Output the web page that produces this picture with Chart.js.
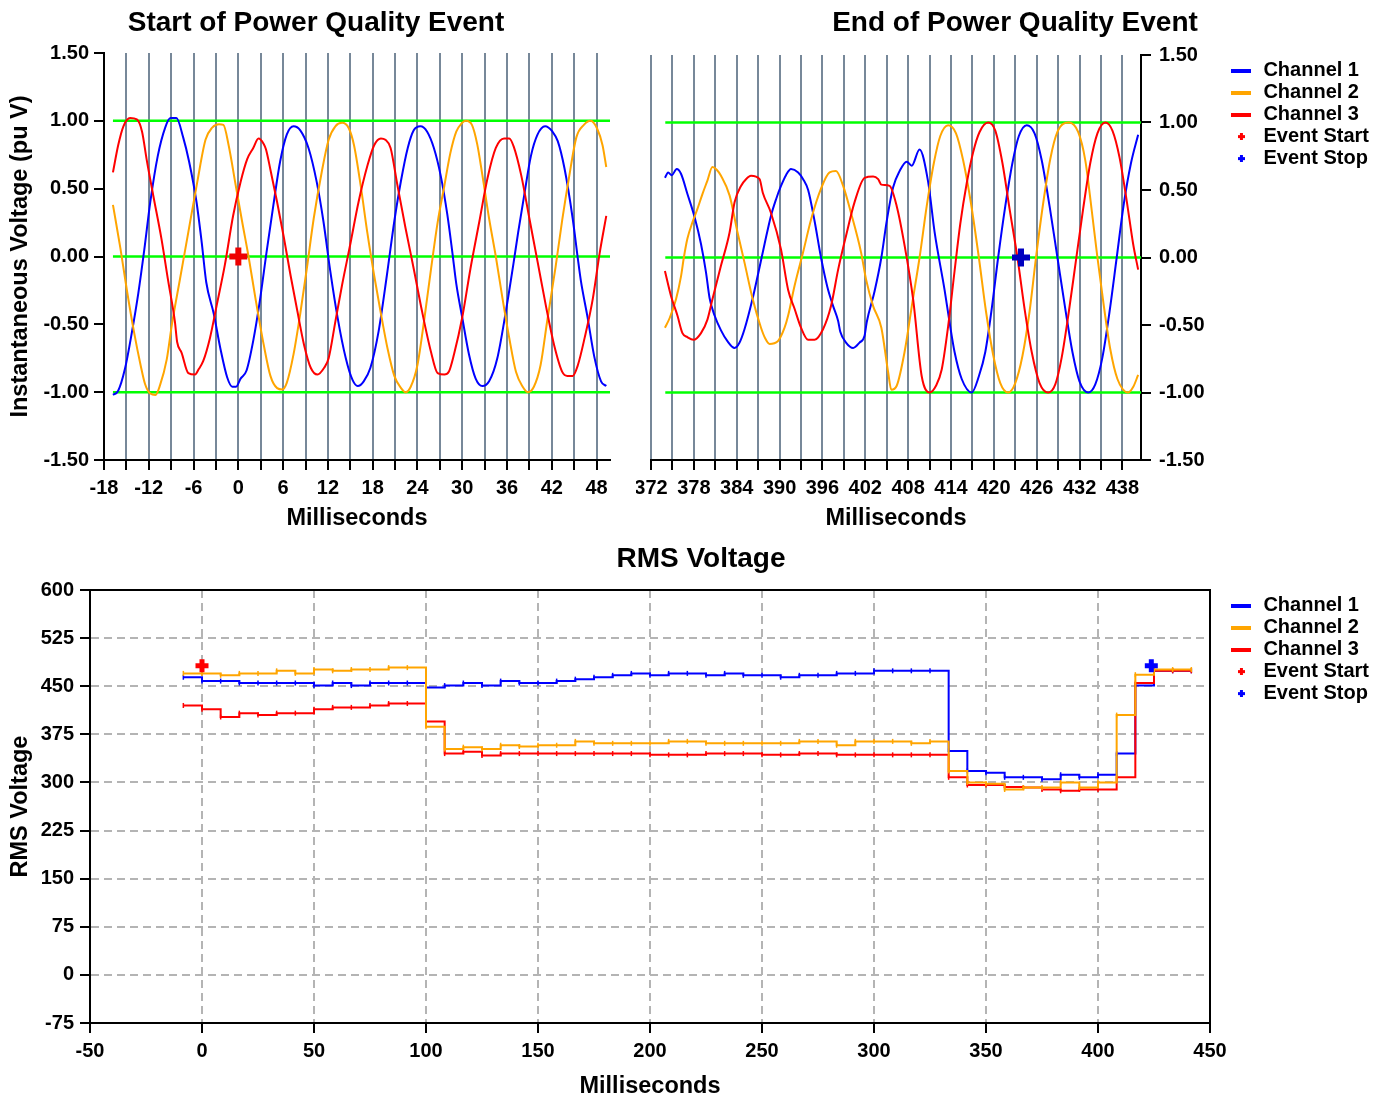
<!DOCTYPE html>
<html lang="en">
<head>
<meta charset="utf-8">
<title>Power Quality Event</title>
<script src="https://cdn.jsdelivr.net/npm/chart.js@4.4.1/dist/chart.umd.min.js"></script>
<style>
  html, body { margin: 0; padding: 0; background: #fff; overflow: hidden; }
  canvas { position: absolute; }
  #startChart { left: 0; top: 0; }
  #endChart { left: 636px; top: 0; }
  #rmsChart { left: 0; top: 540px; }
</style>
</head>
<body>
<canvas id="startChart" width="632" height="540"></canvas>
<canvas id="endChart" width="743" height="540"></canvas>
<canvas id="rmsChart" width="1379" height="560"></canvas>
<script>
// instantaneous samples around the start of the event, [ms, pu V]
const startCh1 = [[-16.8,-1.02],[-16.1,-0.99],[-15.2,-0.83],[-14.3,-0.57],[-13.4,-0.27],[-12.6,0.05],[-11.8,0.40],[-10.8,0.74],[-9.8,0.95],[-9.1,1.02],[-8.3,1.02],[-7.4,0.88],[-6.6,0.70],[-5.6,0.40],[-4.9,0.10],[-4.3,-0.19],[-3.3,-0.42],[-2.4,-0.68],[-1.5,-0.89],[-0.8,-0.96],[-0.3,-0.96],[0.3,-0.90],[1.1,-0.84],[2.0,-0.62],[2.9,-0.32],[3.8,0.04],[4.7,0.38],[5.6,0.70],[6.5,0.90],[7.4,0.96],[8.3,0.93],[9.4,0.80],[10.5,0.55],[11.4,0.26],[12.3,-0.10],[13.3,-0.45],[14.4,-0.75],[15.3,-0.91],[16.0,-0.955],[16.8,-0.92],[17.7,-0.82],[18.8,-0.55],[19.9,-0.14],[20.9,0.26],[21.8,0.56],[22.7,0.80],[23.5,0.93],[24.4,0.96],[25.3,0.92],[26.2,0.80],[27.1,0.60],[28.0,0.31],[28.7,0.02],[29.2,-0.20],[30.0,-0.45],[30.9,-0.72],[31.8,-0.90],[32.7,-0.955],[33.6,-0.92],[34.7,-0.75],[35.8,-0.42],[36.9,-0.04],[37.5,0.18],[38.3,0.45],[39.2,0.74],[40.1,0.90],[41.1,0.96],[42.1,0.92],[42.8,0.85],[43.7,0.65],[44.8,0.28],[45.5,-0.02],[45.9,-0.18],[46.8,-0.45],[47.7,-0.74],[48.6,-0.92],[49.3,-0.955]];
const startCh2 = [[-16.8,0.38],[-15.8,0.06],[-14.9,-0.26],[-14.0,-0.55],[-13.1,-0.80],[-12.5,-0.94],[-11.8,-1.01],[-11.1,-1.02],[-10.5,-0.95],[-9.6,-0.76],[-8.9,-0.50],[-7.8,-0.16],[-6.7,0.18],[-5.5,0.55],[-4.4,0.86],[-3.5,0.95],[-2.6,0.975],[-2.0,0.97],[-1.3,0.82],[-0.4,0.54],[0.5,0.26],[1.4,-0.01],[2.3,-0.31],[3.4,-0.65],[4.3,-0.88],[5.2,-0.97],[5.9,-0.98],[6.5,-0.93],[7.4,-0.72],[8.3,-0.42],[9.2,-0.08],[10.1,0.28],[11.2,0.63],[12.1,0.86],[13.0,0.96],[13.9,0.985],[14.8,0.945],[15.5,0.82],[16.4,0.52],[17.3,0.17],[18.2,-0.14],[19.1,-0.42],[20.0,-0.68],[20.9,-0.88],[21.8,-0.97],[22.4,-1.0],[23.1,-0.96],[24.0,-0.80],[24.9,-0.47],[25.8,-0.10],[26.7,0.25],[27.6,0.52],[28.4,0.76],[29.2,0.92],[29.9,0.98],[30.5,1.0],[31.3,0.97],[32.0,0.83],[32.7,0.60],[33.6,0.28],[34.5,0.0],[35.4,-0.31],[36.3,-0.60],[37.2,-0.85],[38.1,-0.96],[38.8,-1.0],[39.6,-0.96],[40.5,-0.80],[41.4,-0.47],[42.5,-0.08],[43.4,0.27],[44.3,0.58],[45.3,0.88],[46.3,0.97],[47.2,1.0],[48.1,0.94],[48.8,0.82],[49.3,0.66]];
const startCh3 = [[-16.8,0.62],[-16.1,0.82],[-15.4,0.96],[-14.5,1.02],[-13.6,1.01],[-12.9,0.92],[-12.3,0.72],[-11.4,0.45],[-10.3,0.13],[-9.4,-0.18],[-8.5,-0.48],[-8.2,-0.63],[-7.6,-0.71],[-6.7,-0.86],[-5.8,-0.87],[-5.3,-0.83],[-4.7,-0.77],[-3.8,-0.60],[-2.9,-0.36],[-1.8,-0.06],[-0.7,0.30],[0.3,0.55],[1.2,0.72],[2.0,0.80],[2.7,0.87],[3.4,0.83],[3.7,0.79],[4.3,0.64],[5.2,0.40],[6.1,0.14],[7.0,-0.14],[7.9,-0.40],[8.8,-0.65],[9.7,-0.82],[10.6,-0.87],[11.5,-0.82],[12.1,-0.75],[13.0,-0.48],[13.9,-0.21],[15.0,0.09],[16.1,0.40],[17.3,0.67],[18.2,0.82],[19.1,0.87],[19.7,0.86],[20.4,0.80],[21.3,0.53],[22.4,0.21],[23.5,-0.09],[24.6,-0.40],[25.8,-0.70],[26.7,-0.86],[27.6,-0.87],[28.2,-0.85],[28.9,-0.72],[30.0,-0.45],[31.1,-0.09],[32.3,0.26],[33.4,0.58],[34.5,0.80],[35.6,0.87],[36.3,0.87],[36.9,0.81],[37.9,0.60],[39.0,0.28],[40.1,-0.04],[41.2,-0.36],[42.3,-0.65],[43.4,-0.85],[44.1,-0.88],[44.8,-0.88],[45.5,-0.80],[46.4,-0.60],[47.5,-0.31],[48.4,0.02],[49.3,0.30]];

// instantaneous samples around the end of the event, [ms, pu V]
const endCh1 = [[373.95,0.59],[374.4,0.63],[374.9,0.61],[375.6,0.655],[376.2,0.62],[377.1,0.47],[378.1,0.30],[379.0,0.10],[379.7,-0.11],[380.2,-0.30],[380.9,-0.43],[381.8,-0.54],[382.7,-0.62],[383.7,-0.67],[384.4,-0.63],[385.1,-0.53],[386.2,-0.31],[387.0,-0.12],[387.9,0.10],[388.8,0.31],[389.5,0.43],[390.2,0.53],[390.9,0.61],[391.6,0.655],[392.6,0.63],[393.3,0.58],[394.0,0.50],[394.9,0.27],[395.8,0.0],[396.7,-0.22],[397.5,-0.36],[398.2,-0.47],[398.5,-0.55],[399.3,-0.63],[400.3,-0.67],[401.2,-0.63],[401.9,-0.58],[402.2,-0.48],[403.3,-0.25],[404.25,0.0],[405.0,0.27],[405.9,0.52],[406.8,0.64],[407.8,0.71],[408.5,0.68],[409.6,0.80],[410.8,0.56],[411.7,0.19],[413.1,-0.24],[413.8,-0.48],[414.5,-0.70],[415.5,-0.90],[416.9,-1.0],[417.9,-0.88],[418.8,-0.70],[419.7,-0.38],[420.6,0.0],[421.6,0.38],[422.6,0.70],[423.5,0.90],[424.6,0.98],[425.7,0.92],[426.7,0.72],[427.8,0.38],[428.9,0.0],[430.0,-0.38],[431.0,-0.70],[432.0,-0.92],[433.2,-1.0],[434.2,-0.94],[435.2,-0.74],[436.2,-0.40],[437.2,0.0],[438.2,0.40],[439.2,0.70],[440.2,0.91]];
const endCh2 = [[373.95,-0.52],[374.6,-0.45],[375.5,-0.31],[376.2,-0.14],[376.6,0.0],[377.1,0.14],[377.8,0.26],[378.5,0.36],[379.2,0.47],[379.9,0.57],[380.6,0.67],[381.2,0.65],[381.8,0.605],[383.0,0.46],[384.1,0.19],[385.1,-0.04],[386.2,-0.30],[387.4,-0.52],[388.0,-0.60],[388.6,-0.64],[389.75,-0.62],[390.7,-0.52],[391.2,-0.43],[392.1,-0.21],[393.3,0.04],[394.4,0.28],[395.8,0.51],[397.0,0.63],[397.9,0.64],[398.9,0.53],[400.0,0.33],[401.4,0.04],[402.1,-0.16],[403.1,-0.36],[404.25,-0.52],[405.2,-0.85],[405.65,-0.98],[406.4,-0.95],[407.5,-0.70],[408.6,-0.33],[409.6,0.0],[410.6,0.38],[411.6,0.70],[412.5,0.90],[413.6,0.98],[414.7,0.92],[415.7,0.72],[416.8,0.40],[417.9,0.0],[418.9,-0.40],[419.9,-0.72],[420.9,-0.93],[422.0,-1.0],[423.0,-0.93],[424.0,-0.73],[425.0,-0.40],[425.9,0.0],[426.9,0.40],[427.9,0.73],[428.9,0.93],[430.5,1.0],[431.8,0.93],[432.8,0.72],[433.7,0.35],[434.5,0.0],[435.4,-0.36],[436.3,-0.68],[437.3,-0.90],[438.8,-1.0],[439.5,-0.96],[440.2,-0.87]];
const endCh3 = [[373.95,-0.10],[374.8,-0.285],[375.7,-0.43],[376.4,-0.56],[377.1,-0.59],[377.95,-0.61],[379.0,-0.56],[379.9,-0.46],[380.6,-0.31],[381.8,-0.06],[383.0,0.185],[383.7,0.41],[384.6,0.53],[385.3,0.58],[386.0,0.605],[387.2,0.58],[387.65,0.48],[388.8,0.33],[390.2,0.06],[391.2,-0.24],[392.1,-0.38],[393.0,-0.52],[394.0,-0.61],[394.9,-0.61],[396.1,-0.53],[397.2,-0.36],[398.2,-0.09],[399.3,0.16],[400.5,0.41],[401.9,0.59],[403.1,0.60],[403.8,0.58],[404.25,0.54],[405.4,0.53],[406.4,0.38],[407.5,0.09],[408.7,-0.31],[409.9,-0.88],[411.0,-1.0],[411.9,-0.95],[412.7,-0.83],[413.6,-0.51],[414.5,-0.10],[415.3,0.25],[416.2,0.55],[417.1,0.78],[418.0,0.93],[419.2,1.0],[420.2,0.94],[421.2,0.70],[422.2,0.36],[423.3,0.0],[424.3,-0.38],[425.3,-0.70],[426.4,-0.93],[427.6,-1.0],[428.6,-0.94],[429.5,-0.74],[430.5,-0.40],[431.5,-0.02],[432.5,0.36],[433.5,0.70],[434.5,0.92],[435.6,1.0],[436.6,0.94],[437.6,0.74],[438.6,0.42],[439.5,0.10],[440.2,-0.09]];

// half-cycle RMS values (V), each held until the next time stamp
const rmsMs = [-8.33, 0, 8.33, 16.67, 25, 33.33, 41.67, 50, 58.33, 66.67, 75, 83.33, 91.67, 100, 108.33, 116.67, 125, 133.33, 141.67, 150, 158.33, 166.67, 175, 183.33, 191.67, 200, 208.33, 216.67, 225, 233.33, 241.67, 250, 258.33, 266.67, 275, 283.33, 291.67, 300, 308.33, 316.67, 325, 333.33, 341.67, 350, 358.33, 366.67, 375, 383.33, 391.67, 400, 408.33, 416.67, 425, 433.33, 441.67];
const rmsCh1 = [464, 458, 458, 455, 455, 455, 455, 451, 455, 451, 455, 455, 455, 448, 451, 455, 451, 458, 455, 455, 458, 461, 464, 467, 470, 467, 470, 470, 467, 470, 467, 467, 464, 467, 467, 470, 470, 474, 474, 474, 474, 349, 318, 315, 308, 308, 305, 312, 308, 312, 345, 451, 474, 474, 474];
const rmsCh2 = [470, 470, 467, 470, 470, 474, 470, 476, 474, 476, 476, 479, 479, 387, 352, 355, 352, 358, 356, 358, 358, 364, 361, 361, 361, 361, 364, 364, 361, 361, 361, 361, 361, 364, 364, 358, 364, 364, 364, 361, 364, 318, 300, 298, 289, 292, 292, 300, 292, 300, 405, 468, 476, 476, 476];
const rmsCh3 = [420, 414, 402, 408, 405, 408, 408, 414, 417, 417, 420, 423, 423, 395, 345, 348, 342, 345, 345, 345, 345, 345, 345, 345, 345, 343, 343, 343, 345, 345, 345, 343, 343, 345, 345, 343, 343, 343, 343, 343, 343, 308, 296, 296, 293, 292, 289, 287, 289, 289, 308, 455, 474, 474, 474];

// event markers
const eventStartMs = 0;
const eventStopMs = 423.8;
const eventPu = 0;
const eventRmsV = 482;

// reference lines on the waveform plots
const limitLevels = [1, 0, -1];
const startLimitSpan = [-16.8, 49.8];
const endLimitSpan = [374.0, 440.6];

// ticks
const startGridMs = [-18, -15, -12, -9, -6, -3, 0, 3, 6, 9, 12, 15, 18, 21, 24, 27, 30, 33, 36, 39, 42, 45, 48];
const endGridMs = [372, 375, 378, 381, 384, 387, 390, 393, 396, 399, 402, 405, 408, 411, 414, 417, 420, 423, 426, 429, 432, 435, 438];
const puTicks = [-1.5, -1, -0.5, 0, 0.5, 1, 1.5];
const rmsMsTicks = [-50, 0, 50, 100, 150, 200, 250, 300, 350, 400, 450];
const rmsVTicks = [-75, 0, 75, 150, 225, 300, 375, 450, 525, 600];

const FONT = '"Liberation Sans", Arial, Helvetica, sans-serif';
Chart.defaults.font.family = FONT;
Chart.defaults.font.weight = 'bold';
Chart.defaults.color = '#000';
Chart.defaults.animation = false;
Chart.defaults.events = [];

const BLUE = '#0000ff', ORANGE = '#ffa500', RED = '#ff0000', GREEN = '#00ff00';

const xy = pairs => pairs.map(([x, y]) => ({x, y}));
const fixTicks = values => scale => { scale.ticks = values.map(value => ({value})); };

function lineIcon(color) {
  const c = document.createElement('canvas');
  c.width = 20; c.height = 4;
  const g = c.getContext('2d');
  g.fillStyle = color;
  g.fillRect(0, 0, 20, 4);
  return c;
}
function crossIcon(color) {
  const c = document.createElement('canvas');
  c.width = 7; c.height = 7;
  const g = c.getContext('2d');
  g.fillStyle = color;
  g.fillRect(2, 0, 3, 7);
  g.fillRect(0, 2, 7, 3);
  return c;
}

// legend geometry, so the plot areas can be sized around it
const LEGEND_SIZE = 20, LEGEND_BOX = 24, LEGEND_PAD = 2;
const legendWidth = (() => {
  const g = document.createElement('canvas').getContext('2d');
  g.font = 'bold ' + LEGEND_SIZE + 'px ' + FONT;
  const widest = Math.max(...['Channel 1', 'Channel 2', 'Channel 3', 'Event Start', 'Event Stop'].map(t => g.measureText(t).width));
  return LEGEND_PAD + LEGEND_BOX + LEGEND_SIZE / 2 + widest + 10;
})();

function legendOpts() {
  return {
    position: 'right', align: 'start', fullSize: false,
    title: {display: true, text: ' ', font: {size: 3}, padding: 0},
    labels: {
      usePointStyle: true, pointStyleWidth: LEGEND_BOX, padding: LEGEND_PAD,
      font: {size: LEGEND_SIZE, weight: 'bold'}, color: '#000',
      filter: item => item.text !== 'limit',
      sort: (a, b) => a.datasetIndex - b.datasetIndex,
      generateLabels: chart => Chart.defaults.plugins.legend.labels.generateLabels(chart).map(item => {
        item.pointStyle = chart.data.datasets[item.datasetIndex].legendIcon;
        item.rotation = 0;
        return item;
      })
    }
  };
}

function wave(label, color, pairs, order) {
  return {label, data: xy(pairs), borderColor: color, backgroundColor: color, borderWidth: 2,
    pointRadius: 0, cubicInterpolationMode: 'monotone', order, legendIcon: lineIcon(color)};
}
function limits(span) {
  return limitLevels.map(level => ({label: 'limit', data: span.map(x => ({x, y: level})),
    borderColor: GREEN, borderWidth: 2.5, pointRadius: 0, order: 10}));
}
function marker(label, color, iconColor, points, radius, width) {
  return {label, data: points, showLine: false, pointStyle: 'cross', pointRadius: radius,
    pointBorderWidth: width, pointBorderColor: color, borderColor: iconColor, backgroundColor: iconColor,
    order: 0, legendIcon: crossIcon(iconColor)};
}

function waveScales(o) {
  return {
    x: {
      type: 'linear', min: o.min, max: o.max,
      afterBuildTicks: fixTicks(o.grid),
      afterFit: s => { s.height = 80; s.paddingLeft = 0; s.paddingRight = o.padRight; },
      ticks: {autoSkip: false, maxRotation: 0, padding: 6, font: {size: 20},
        callback: v => (Math.abs(v % 6) < 1e-6 ? String(v) : '')},
      grid: {color: '#778899', lineWidth: 2, tickLength: 10, tickColor: '#000', tickWidth: 2},
      border: {color: '#000', width: 2},
      title: {display: true, text: 'Milliseconds', font: {size: 23.5}, padding: {top: 0, bottom: 7}}
    },
    y: {
      position: o.yPos, min: -1.5, max: 1.5,
      afterBuildTicks: fixTicks(puTicks),
      afterFit: s => { s.width = o.yWidth; s.paddingTop = 0; s.paddingBottom = 0; },
      ticks: {padding: o.yPad, font: {size: 20}, callback: v => v.toFixed(2)},
      grid: {drawOnChartArea: false, lineWidth: 2, tickLength: 10, tickColor: '#000', tickWidth: 2},
      border: {color: '#000', width: 2},
      title: {display: o.yTitle, text: 'Instantaneous Voltage (pu V)', font: {size: 23.5}, padding: {top: 6, bottom: 0}}
    }
  };
}

// Start of event
new Chart(document.getElementById('startChart'), {
  type: 'line',
  data: {datasets: [
    wave('Channel 1', BLUE, startCh1, 3),
    wave('Channel 2', ORANGE, startCh2, 2),
    wave('Channel 3', RED, startCh3, 1),
    marker('Event Start', '#ee0000', RED, [{x: eventStartMs, y: eventPu}], 9, 6),
    ...limits(startLimitSpan)
  ]},
  options: {
    responsive: false,
    layout: {padding: 0},
    plugins: {
      title: {display: true, text: 'Start of Power Quality Event', font: {size: 28, weight: 'bold'}, color: '#000', padding: {top: 6, bottom: 13.4}},
      legend: {display: false},
      tooltip: {enabled: false}
    },
    scales: waveScales({min: -18, max: 49.8, grid: startGridMs, padRight: 22, yPos: 'left', yWidth: 104, yPad: 5, yTitle: true})
  }
});

// End of event
new Chart(document.getElementById('endChart'), {
  type: 'line',
  data: {datasets: [
    wave('Channel 1', BLUE, endCh1, 3),
    wave('Channel 2', ORANGE, endCh2, 2),
    wave('Channel 3', RED, endCh3, 1),
    marker('Event Start', '#ee0000', RED, [], 9, 6),
    marker('Event Stop', '#0000c0', BLUE, [{x: eventStopMs, y: eventPu}], 9, 6),
    ...limits(endLimitSpan)
  ]},
  options: {
    responsive: false,
    layout: {padding: {left: 15, right: 0, top: 0, bottom: 0}},
    plugins: {
      title: {display: true, text: 'End of Power Quality Event', font: {size: 28, weight: 'bold'}, color: '#000', padding: {top: 6, bottom: 15.4}},
      legend: legendOpts(),
      tooltip: {enabled: false}
    },
    scales: waveScales({min: 372, max: 440.6, grid: endGridMs, padRight: 0, yPos: 'right', yWidth: 743 - legendWidth - 505, yPad: 8, yTitle: false})
  }
});

// RMS voltage
function rmsLine(label, color, values, order) {
  return {label, data: rmsMs.map((x, i) => ({x, y: values[i]})), borderColor: color, backgroundColor: color,
    borderWidth: 2, stepped: true, pointStyle: 'line', pointRotation: 90, pointRadius: 2.5,
    pointBorderWidth: 1.5, pointBorderColor: color, order, legendIcon: lineIcon(color)};
}
const rmsGrid = {color: '#b4b4b4', lineWidth: 2, tickLength: 10, tickColor: '#000', tickWidth: 2, tickBorderDash: []};
const rmsBorder = {color: '#000', width: 2, dash: [8, 5]};

new Chart(document.getElementById('rmsChart'), {
  type: 'line',
  data: {datasets: [
    rmsLine('Channel 1', BLUE, rmsCh1, 3),
    rmsLine('Channel 2', ORANGE, rmsCh2, 1),
    rmsLine('Channel 3', RED, rmsCh3, 2),
    marker('Event Start', RED, RED, [{x: eventStartMs, y: eventRmsV}], 6.5, 5),
    marker('Event Stop', BLUE, BLUE, [{x: eventStopMs, y: eventRmsV}], 6.5, 5)
  ]},
  options: {
    responsive: false,
    layout: {padding: {left: 23, right: 0, top: 0, bottom: 0}},
    plugins: {
      title: {display: true, text: 'RMS Voltage', font: {size: 28, weight: 'bold'}, color: '#000', padding: {top: 2.2, bottom: 14.2}},
      legend: legendOpts(),
      tooltip: {enabled: false}
    },
    scales: {
      x: {
        type: 'linear', min: -50, max: 450,
        afterBuildTicks: fixTicks(rmsMsTicks),
        afterFit: s => { s.height = 77; s.paddingLeft = 0; s.paddingRight = 0; },
        ticks: {autoSkip: false, maxRotation: 0, padding: 6, font: {size: 20}, callback: v => String(v)},
        grid: rmsGrid, border: rmsBorder,
        title: {display: true, text: 'Milliseconds', font: {size: 23.5}, padding: {top: 0, bottom: -1}}
      },
      y: {
        min: -75, max: 600,
        afterBuildTicks: fixTicks(rmsVTicks),
        afterFit: s => { s.width = 67; s.paddingTop = 0; s.paddingBottom = 0; },
        ticks: {padding: 6, font: {size: 20}, callback: v => String(v)},
        grid: rmsGrid, border: rmsBorder,
        title: {display: true, text: 'RMS Voltage', font: {size: 23.5}, padding: {top: -17, bottom: 0}}
      },
      xTop: {
        type: 'linear', position: 'top', min: -50, max: 450,
        ticks: {display: false}, grid: {display: false}, border: {color: '#000', width: 2},
        afterFit: s => { s.height = 0; s.paddingLeft = 0; s.paddingRight = 0; }
      },
      yRight: {
        position: 'right', min: -75, max: 600,
        ticks: {display: false}, grid: {display: false}, border: {color: '#000', width: 2},
        afterFit: s => { s.width = 1379 - legendWidth - 1210; s.paddingTop = 0; s.paddingBottom = 0; }
      }
    }
  }
});
</script>
</body>
</html>
